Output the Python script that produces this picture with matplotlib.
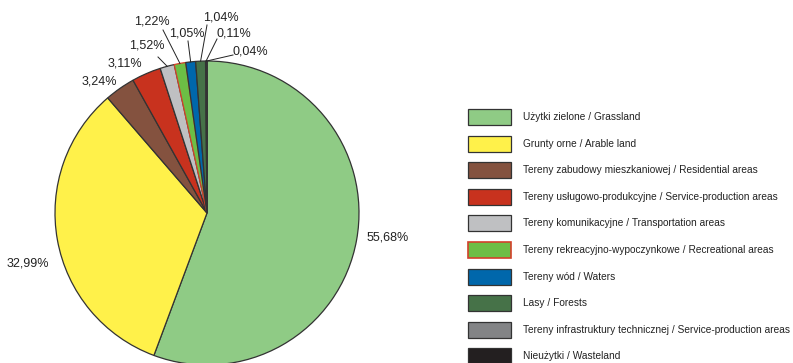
import numpy as np
import matplotlib
matplotlib.use("Agg")
from matplotlib import pyplot as plt
from matplotlib.patches import Rectangle

# data
labels = ["Użytki zielone / Grassland",
          "Grunty orne / Arable land",
          "Tereny zabudowy mieszkaniowej / Residential areas",
          "Tereny usługowo-produkcyjne / Service-production areas",
          "Tereny komunikacyjne / Transportation areas",
          "Tereny rekreacyjno-wypoczynkowe / Recreational areas",
          "Tereny wód / Waters",
          "Lasy / Forests",
          "Tereny infrastruktury technicznej / Service-production areas",
          "Nieużytki / Wasteland"]
shares = [55.68, 32.99, 3.24, 3.11, 1.52, 1.22, 1.05, 1.04, 0.11, 0.04]
pct_text = ["55,68%", "32,99%", "3,24%", "3,11%", "1,52%",
            "1,22%", "1,05%", "1,04%", "0,11%", "0,04%"]

colors = ["#8fcb85", "#fff14a", "#84523f", "#c8321e", "#bfc0c2",
          "#6cbe45", "#0067ab", "#467248", "#838486", "#231f20"]
edges = ["#333333"] * 10
edges[5] = "#d2412a"

# label placement in pixels (centre of text), and leader line start
W, H = 793, 363
cx, cy, R = 207, 213, 152
lab_px = [(388, 237), (28, 263), (99, 82), (125, 63), (147, 45),
          (152, 22), (187, 33), (221, 18), (234, 34), (250, 52)]
line_from = [None, None, None, None, (158, 57),
             (163, 30), (188, 41), (207, 25), (217, 39), (233, 55)]

FONT = ["Liberation Sans", "DejaVu Sans"]

def px2d(p):
    return ((p[0] - cx) / R, (cy - p[1]) / R)

fig = plt.figure(figsize=(W / 100, H / 100), dpi=100)
ax = fig.add_axes([0, 0, 1, 1])

wedges, _ = ax.pie(shares, colors=colors, startangle=90, counterclock=False,
                   radius=1, center=(0, 0), frame=True,
                   wedgeprops=dict(linewidth=0.9))
for w, ec in zip(wedges, edges):
    w.set_edgecolor(ec)
ax.set_xlim(-cx / R, (W - cx) / R)
ax.set_ylim(-(H - cy) / R, cy / R)
ax.set_aspect("equal")
ax.axis("off")

for i, w in enumerate(wedges):
    tx, ty = px2d(lab_px[i])
    ax.text(tx, ty, pct_text[i], ha="center", va="center",
            fontsize=9, family=FONT, color="#222222")
    if line_from[i] is not None:
        th = np.deg2rad((w.theta1 + w.theta2) / 2)
        lx, ly = px2d(line_from[i])
        ax.plot([lx, np.cos(th)], [ly, np.sin(th)], color="#222222", lw=0.7)

# legend
row_y = 117
for i, lab in enumerate(labels):
    y = row_y + i * 26.6
    x0, y0 = px2d((468, y + 8))
    ax.add_patch(Rectangle((x0, y0), 43 / R, 16 / R, facecolor=colors[i],
                           edgecolor=edges[i] if i == 5 else "#333333",
                           lw=0.9 if i != 5 else 1.2))
    tx, ty = px2d((523, y))
    ax.text(tx, ty, lab, ha="left", va="center", fontsize=7.3,
            family=FONT, color="#222222")

fig.savefig("out.png", dpi=100)
